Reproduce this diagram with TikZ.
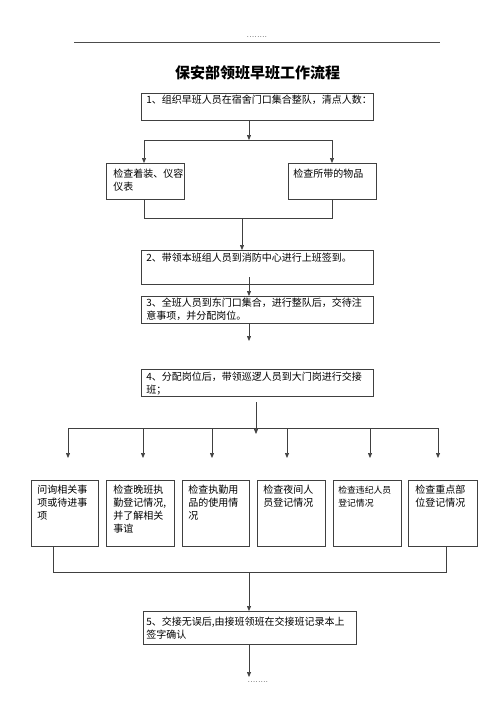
\documentclass[tikz,border=0pt]{standalone}
\usepackage{fontspec}
\newfontfamily\cjk{Noto Sans CJK SC}
\usetikzlibrary{arrows.meta}
\newcommand\bx[5]{\parbox[c][#2pt][t]{#1pt}{\parindent=0pt\leftskip=#3pt\vspace*{#4pt}#5\par}}
\begin{document}
\begin{tikzpicture}[x=1pt,y=-1pt,
  ln/.style={draw=black!75,line width=0.7pt},
  arr/.style={ln,-{Triangle[length=5pt,width=4pt]}},
  box/.style={ln,anchor=north west,inner sep=0pt,font=\cjk\fontsize{10}{13}\selectfont},
  smallbox/.style={box,font=\cjk\fontsize{8.8}{13}\selectfont},
  dots/.style={text=black!85,font=\fontsize{9}{9}\selectfont,inner sep=0pt}]
\useasboundingbox (0,0) rectangle (500,707);
\fill[white] (0,0) rectangle (500,707);
% header
\node[dots] (dtop) at (257,37) {........};
\coordinate (hl1) at (74,42);
\coordinate (hl2) at (440,42);
\draw[draw=black!70,line width=0.8pt] (hl1) -- (hl2);
\node[font=\cjk\bfseries\fontsize{15}{15}\selectfont,inner sep=0pt] (title) at (257.5,73) {保安部领班早班工作流程};
% boxes
\node[box] (b1) at (141,93) {\bx{232}{27}{5}{2}{1、组织早班人员在宿舍门口集合整队，清点人数：}};
\node[box] (lb) at (106,163) {\bx{78}{36}{7}{6}{检查着装、仪容\\仪表}};
\node[box] (rb) at (288,163) {\bx{88}{36}{5}{6}{检查所带的物品}};
\node[box] (b2) at (141,250) {\bx{232}{34}{5}{3}{2、带领本班组人员到消防中心进行上班签到。}};
\node[box] (b3) at (141,296) {\bx{232}{27}{5}{2}{3、全班人员到东门口集合，进行整队后，交待注\\意事项，并分配岗位。}};
\node[box] (b4) at (141,369) {\bx{232}{27}{5}{3}{4、分配岗位后，带领巡逻人员到大门岗进行交接\\班；}};
\node[box] (ba) at (31,480) {\bx{67}{66}{6}{5}{问询相关事\\项或待进事\\项}};
\node[box] (bb) at (106,480) {\bx{68}{66}{7}{5}{检查晚班执\\勤登记情况,\\并了解相关\\事谊}};
\node[box] (bc) at (182,480) {\bx{67}{66}{6}{5}{检查执勤用\\品的使用情\\况}};
\node[box] (bd) at (257,480) {\bx{68}{66}{6}{5}{检查夜间人\\员登记情况}};
\node[smallbox] (be) at (333,480) {\bx{68}{66}{5}{6}{检查违纪人员\\登记情况}};
\node[box] (bf) at (408,480) {\bx{69}{66}{7}{5}{检查重点部\\位登记情况}};
\node[box] (b5) at (143,611) {\bx{213}{33}{3}{6}{5、交接无误后,由接班领班在交接班记录本上\\签字确认}};
\node[dots] (dbot) at (258,682) {........};
% connectors top
\coordinate (c1) at (249,140);
\coordinate (ls) at (144,140);
\coordinate (rs) at (332,140);
\draw[arr] (b1.south -| c1) -- (c1);
\draw[ln] (ls) -- (rs);
\draw[arr] (ls) -- (lb.north -| ls);
\draw[arr] (rs) -- (rb.north -| rs);
\coordinate (lj) at (144,218);
\coordinate (rj) at (332,218);
\coordinate (mj) at (242,218);
\draw[ln] (lb.south -| lj) -- (lj) -- (rj) -- (rb.south -| rj);
\draw[arr] (mj) -- (b2.north -| mj);
\coordinate (s23) at (249,277);
\draw[arr] (s23) -- (b3.north -| s23);
\coordinate (e3) at (249,341);
\draw[arr] (b3.south -| e3) -- (e3);
% fan out
\coordinate (s4) at (256,402);
\coordinate (t4) at (256,434);
\draw[arr] (s4) -- (t4);
\coordinate (h1) at (68,428);
\coordinate (h2) at (143,428);
\coordinate (h3) at (212,428);
\coordinate (h4) at (287,428);
\coordinate (h5) at (370,428);
\coordinate (h6) at (438,428);
\coordinate (tip) at (0,458);
\draw[ln] (h1) -- (h6);
\draw[arr] (h1) -- (h1 |- tip);
\draw[arr] (h2) -- (h2 |- tip);
\draw[arr] (h3) -- (h3 |- tip);
\draw[arr] (h4) -- (h4 |- tip);
\draw[arr] (h5) -- (h5 |- tip);
\draw[arr] (h6) -- (h6 |- tip);
% join
\coordinate (j1) at (53,572);
\coordinate (j2) at (446,572);
\coordinate (j5) at (249,572);
\draw[ln] (ba.south -| j1) -- (j1) -- (j2) -- (bf.south -| j2);
\draw[arr] (j5) -- (b5.north -| j5);
\coordinate (e5) at (249,677);
\draw[arr] (b5.south -| e5) -- (e5);
\end{tikzpicture}
\end{document}
